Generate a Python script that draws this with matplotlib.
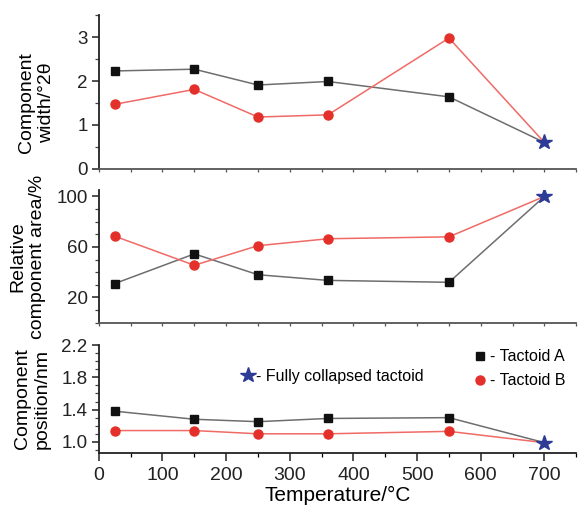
import matplotlib.pyplot as plt
from matplotlib.lines import Line2D
from matplotlib.ticker import MultipleLocator

plt.rcParams['font.family'] = ['Liberation Sans', 'DejaVu Sans']

# temperatures (°C); last point is the fully collapsed tactoid
temperature = [25, 150, 250, 360, 550, 700]

width_a = [2.23, 2.27, 1.91, 1.99, 1.64, 0.60]
width_b = [1.47, 1.81, 1.18, 1.23, 2.98, 0.60]

area_a = [31, 54.5, 38, 33.5, 32, 100]
area_b = [68.5, 45.5, 61, 66.5, 68, 100]

pos_a = [1.38, 1.28, 1.25, 1.29, 1.30, 0.99]
pos_b = [1.14, 1.14, 1.10, 1.10, 1.13, 0.99]

black = '#111111'
red = '#e4302a'
star_blue = '#2d3b96'
line_a = '#6e6e6e'
line_b = '#f06a66'

fig = plt.figure(figsize=(5.78, 5.07), dpi=100)
ax_w = fig.add_axes([0.171, 0.667, 0.826, 0.303])
ax_a = fig.add_axes([0.171, 0.3635, 0.826, 0.2615])
ax_p = fig.add_axes([0.171, 0.107, 0.826, 0.2125])

panels = [
    (ax_w, width_a, width_b, (0, 3.5), 1, 0.5, 'Component\nwidth/°2θ', (-0.092, 0.43)),
    (ax_a, area_a, area_b, (0, 105), 40, 10, 'Relative\ncomponent area/%', (-0.11, 0.5)),
    (ax_p, pos_a, pos_b, (0.865, 2.2), 0.4, 0.1, 'Component\nposition/nm', (-0.10, 0.5)),
]

for ax, ya, yb, ylim, major, minor, label, lc in panels:
    # connecting lines run through to the collapsed point
    ax.plot(temperature, ya, color=line_a, lw=1.1, zorder=2)
    ax.plot(temperature, yb, color=line_b, lw=1.1, zorder=2)
    ax.plot(temperature[:-1], ya[:-1], 's', color=black, ms=6, zorder=3)
    ax.plot(temperature[:-1], yb[:-1], 'o', color=red, ms=6.5, zorder=3)
    ax.plot(temperature[-1], ya[-1], '*', color=star_blue, ms=11.5, zorder=4)

    ax.set_xlim(0, 750)
    ax.set_ylim(*ylim)
    if ax is ax_a:
        ax.set_yticks([20, 60, 100])
    elif ax is ax_p:
        ax.set_yticks([1.0, 1.4, 1.8, 2.2])
    else:
        ax.yaxis.set_major_locator(MultipleLocator(major))
    ax.yaxis.set_minor_locator(MultipleLocator(minor))
    ax.xaxis.set_major_locator(MultipleLocator(100))
    ax.xaxis.set_minor_locator(MultipleLocator(50))

    for side in ('top', 'right'):
        ax.spines[side].set_visible(False)
    ax.spines['left'].set_linewidth(1.3)
    ax.spines['left'].set_color('#222222')
    ax.spines['bottom'].set_linewidth(1.3)
    ax.spines['bottom'].set_color('#555555')

    ax.tick_params(axis='y', which='major', direction='out', length=5, width=1.1,
                   labelsize=13.5, pad=3, colors='#222222')
    ax.tick_params(axis='y', which='minor', direction='out', length=3, width=0.9,
                   colors='#444444')
    ax.set_ylabel(label, fontsize=14, linespacing=1.2)
    ax.yaxis.set_label_coords(*lc)

    if ax is ax_p:
        ax.tick_params(axis='x', which='major', direction='out', length=6, width=1.1,
                       labelsize=14, pad=4, colors='#222222')
        ax.tick_params(axis='x', which='minor', direction='out', length=3, width=0.9)
        ax.spines['bottom'].set_color('#222222')
    else:
        ax.tick_params(axis='x', which='both', direction='out', length=2, width=0.9,
                       labelbottom=False, colors='#555555')

ax_p.set_xlabel('Temperature/°C', fontsize=15, labelpad=2)

star_handle = [Line2D([], [], ls='none', marker='*', color=star_blue, ms=11.5)]
leg1 = ax_p.legend(star_handle, ['- Fully collapsed tactoid'], loc='center left',
                   bbox_to_anchor=(0.30, 0.71), frameon=False, fontsize=11.5,
                   handlelength=0.8, handletextpad=0.1, borderpad=0, borderaxespad=0)
ax_p.add_artist(leg1)

ab_handles = [Line2D([], [], ls='none', marker='s', color=black, ms=6),
              Line2D([], [], ls='none', marker='o', color=red, ms=6.5)]
ax_p.legend(ab_handles, ['- Tactoid A', '- Tactoid B'], loc='upper left',
            bbox_to_anchor=(0.785, 0.96), frameon=False, fontsize=11.5,
            handlelength=0.8, handletextpad=0.2, labelspacing=0.55,
            borderpad=0, borderaxespad=0)

fig.savefig('out.png', dpi=100)
